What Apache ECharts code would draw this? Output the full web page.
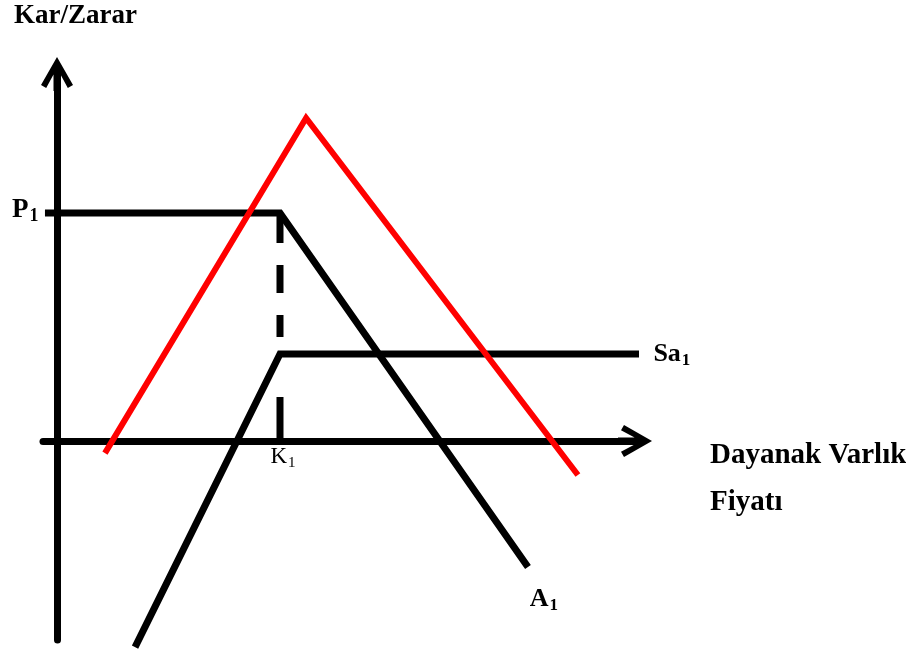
<!DOCTYPE html>
<html lang="tr">

<head>
  <meta charset="UTF-8">
  <title>Kar/Zarar</title>
  <style>
    body { margin: 0; background: #fff; }
  </style>
</head>

<body>
  <div id="main" style="width: 906px;height: 655px;"></div>
</body>
<script src="https://cdn.jsdelivr.net/npm/echarts@6/dist/echarts.min.js"></script>
<script>
  // units: K1 = 10 on x, P1 = 10 on y
  var aLine = [[-0.54, 10], [10, 10], [21.12, -5.53]];     // P1 -> K1 -> A1
  var saLine = [[3.5, -9.04], [10, 3.82], [26.14, 3.82]];  // Sa1
  var kLine = [[10, 10], [10, 0]];                          // dashed at K1
  var redLine = [[2.15, -0.53], [11.17, 14.17], [23.36, -1.49]];

  var labelP = ['P', '1'];
  var labelK = ['K', '1'];
  var labelSa = ['Sa', '1'];
  var labelA = ['A', '1'];

  var font = 'Liberation Serif';
  // chevron arrow with a short stem, tip up
  var arrow = 'path://M17,0 L33,28 L27.8,31 L20.5,17.4 L20.5,34 L13.5,34 L13.5,17.4 L6.2,31 L1,28 Z';

  function sub(txt, size, bold) {
    return {
      show: true,
      formatter: '{m|' + txt[0] + '}{s|' + txt[1] + '}',
      rich: {
        m: { fontFamily: font, fontSize: size, fontWeight: bold ? 'bold' : 'normal', color: '#000', lineHeight: size + 4 },
        s: { fontFamily: font, fontSize: Math.round(size * 0.65), fontWeight: bold ? 'bold' : 'normal', color: '#000', verticalAlign: 'bottom', padding: [Math.round(size * 0.45), 0, 0, 1] }
      }
    };
  }

  function pt(p, label) {
    return { value: p, label: label };
  }

  var chart = echarts.init(document.getElementById('main'));

  var blackLine = { color: '#000', width: 7, join: 'miter', cap: 'butt' };
  var hidden = { color: 'rgba(0,0,0,0)', borderWidth: 0 };

  var option = {
    animation: false,
    title: {
      text: 'Kar/Zarar',
      left: 9,
      top: -2,
      textStyle: { fontFamily: font, fontSize: 27, fontWeight: 'bold', color: '#000' }
    },
    grid: { left: 43, right: 271, top: 74, bottom: 15, containLabel: false, outerBoundsMode: 'none' },
    xAxis: {
      type: 'value',
      min: -0.628,
      max: 25.92,
      name: '{a|Dayanak Varlık}\n{b|Fiyatı}',
      nameLocation: 'end',
      nameGap: 75,
      nameTextStyle: {
        align: 'left',
        verticalAlign: 'top',
        rich: {
          a: { fontFamily: font, fontSize: 29, fontWeight: 'bold', color: '#000', lineHeight: 28 },
          b: { fontFamily: font, fontSize: 29, fontWeight: 'bold', color: '#000', lineHeight: 66 }
        }
      },
      axisLine: {
        onZero: true,
        symbol: ['none', arrow],
        symbolSize: [32, 34],
        lineStyle: { color: '#000', width: 7 }
      },
      axisTick: { show: false },
      axisLabel: { show: false },
      splitLine: { show: false }
    },
    yAxis: {
      type: 'value',
      min: -8.728,
      max: 16.10,
      axisLine: {
        onZero: true,
        symbol: ['none', arrow],
        symbolSize: [32, 34],
        lineStyle: { color: '#000', width: 7 }
      },
      axisTick: { show: false },
      axisLabel: { show: false },
      splitLine: { show: false }
    },
    series: [
      {
        type: 'line',
        symbol: 'circle',
        symbolSize: 1,
        itemStyle: hidden,
        clip: false,
        silent: true,
        lineStyle: blackLine,
        data: [
          pt(aLine[0], Object.assign(sub(labelP, 27, true), { position: 'left', distance: 6, offset: [0, -3] })),
          aLine[1],
          pt(aLine[2], Object.assign(sub(labelA, 26, true), { position: 'bottom', distance: 17, offset: [16, 0] }))
        ]
      },
      {
        type: 'line',
        symbol: 'circle',
        symbolSize: 1,
        itemStyle: hidden,
        clip: false,
        silent: true,
        lineStyle: blackLine,
        data: [
          saLine[0],
          saLine[1],
          pt(saLine[2], Object.assign(sub(labelSa, 26, true), { position: 'right', distance: 13 }))
        ]
      },
      {
        type: 'line',
        symbol: 'circle',
        symbolSize: 1,
        itemStyle: hidden,
        clip: false,
        silent: true,
        lineStyle: { color: '#000', width: 7, cap: 'butt', type: [30, 22, 28, 22, 22, 60, 44] },
        data: [
          kLine[0],
          pt(kLine[1], Object.assign(sub(labelK, 23, false), { position: 'bottom', distance: 2, offset: [3, 0] }))
        ]
      },
      {
        type: 'line',
        symbol: 'none',
        clip: false,
        silent: true,
        lineStyle: { color: '#f00', width: 6, join: 'miter', cap: 'butt' },
        data: redLine
      }
    ]
  };

  option && chart.setOption(option);
</script>

</html>
